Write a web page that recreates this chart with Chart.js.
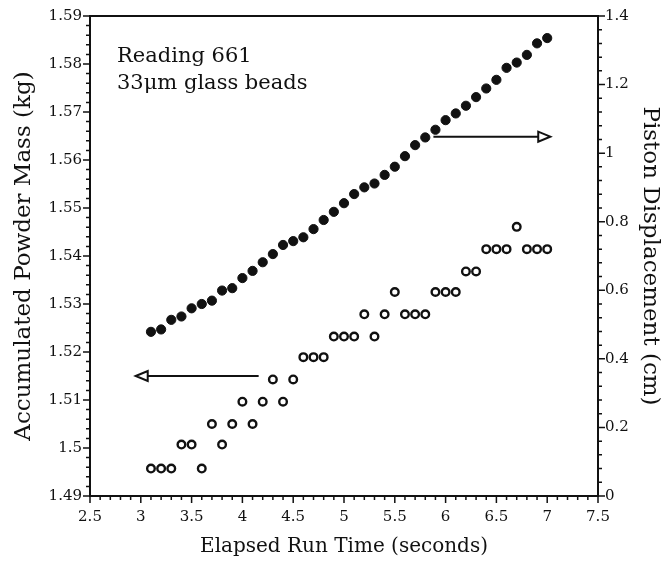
<!DOCTYPE html>
<html>
<head>
<meta charset="utf-8">
<script src="https://cdn.jsdelivr.net/npm/chart.js@4.4.0/dist/chart.umd.min.js"></script>
<style>
  html, body { margin: 0; padding: 0; background: #fff; }
</style>
</head>
<body>
<canvas id="runChart" width="668" height="561"></canvas>
<script>
// Elapsed run time (s), one sample every 0.1 s
const times = [3.1, 3.2, 3.3, 3.4, 3.5, 3.6, 3.7, 3.8, 3.9, 4.0,
               4.1, 4.2, 4.3, 4.4, 4.5, 4.6, 4.7, 4.8, 4.9, 5.0,
               5.1, 5.2, 5.3, 5.4, 5.5, 5.6, 5.7, 5.8, 5.9, 6.0,
               6.1, 6.2, 6.3, 6.4, 6.5, 6.6, 6.7, 6.8, 6.9, 7.0];

// Accumulated powder mass (kg), left axis
const massKg = [1.5242, 1.5247, 1.5267, 1.5274, 1.5291, 1.5300, 1.5307, 1.5328, 1.5333, 1.5354,
                1.5369, 1.5387, 1.5404, 1.5423, 1.5431, 1.5439, 1.5456, 1.5475, 1.5492, 1.5510,
                1.5529, 1.5543, 1.5551, 1.5569, 1.5586, 1.5608, 1.5631, 1.5647, 1.5663, 1.5683,
                1.5697, 1.5713, 1.5731, 1.5749, 1.5767, 1.5792, 1.5803, 1.5819, 1.5843, 1.5854];

// Piston displacement (cm), right axis
const pistonCm = [0.08, 0.08, 0.08, 0.15, 0.15, 0.08, 0.21, 0.15, 0.21, 0.275,
                  0.21, 0.275, 0.34, 0.275, 0.34, 0.405, 0.405, 0.405, 0.465, 0.465,
                  0.465, 0.53, 0.465, 0.53, 0.595, 0.53, 0.53, 0.53, 0.595, 0.595,
                  0.595, 0.655, 0.655, 0.72, 0.72, 0.72, 0.785, 0.72, 0.72, 0.72];

// Labelled tick values
const timeTicks = [2.5, 3, 3.5, 4, 4.5, 5, 5.5, 6, 6.5, 7, 7.5];
const massTicks = [1.49, 1.5, 1.51, 1.52, 1.53, 1.54, 1.55, 1.56, 1.57, 1.58, 1.59];
const pistonTicks = [0, 0.2, 0.4, 0.6, 0.8, 1, 1.2, 1.4];

// Minor tick spacing per axis
const minorSteps = { x: 0.1, mass: 0.002, piston: 0.04 };

const ink = '#111';
const serif = '"DejaVu Serif", "Liberation Serif", serif';

function useTicks(values) {
  return scale => { scale.ticks = values.map(v => ({ value: v })); };
}

// box, major/minor ticks, arrows and caption
const framePlugin = {
  id: 'frame',
  afterDraw(chart) {
    const { ctx, chartArea: a, scales } = chart;
    ctx.save();
    ctx.strokeStyle = ink;
    ctx.lineWidth = 2;
    ctx.strokeRect(a.left, a.top, a.right - a.left, a.bottom - a.top);

    const tickRun = (scale, step, majors, draw) => {
      const n = Math.round((scale.max - scale.min) / step);
      for (let i = 0; i <= n; i++) {
        const v = scale.min + i * step;
        const major = majors.some(m => Math.abs(m - v) < step / 10);
        draw(scale.getPixelForValue(v), major ? 7 : 4);
      }
    };
    ctx.lineWidth = 1.5;
    ctx.beginPath();
    tickRun(scales.x, minorSteps.x, timeTicks, (p, len) => {
      ctx.moveTo(p, a.bottom); ctx.lineTo(p, a.bottom + len);
    });
    tickRun(scales.mass, minorSteps.mass, massTicks, (p, len) => {
      ctx.moveTo(a.left, p); ctx.lineTo(a.left - len, p);
    });
    tickRun(scales.piston, minorSteps.piston, pistonTicks, (p, len) => {
      ctx.moveTo(a.right, p); ctx.lineTo(a.right + len, p);
    });
    ctx.stroke();

    // arrows pointing at each series' axis
    const arrow = (x0, x1, y) => {
      const dir = Math.sign(x1 - x0);
      const base = x1 - dir * 12;
      ctx.lineWidth = 2;
      ctx.beginPath();
      ctx.moveTo(x0, y); ctx.lineTo(base, y);
      ctx.stroke();
      ctx.fillStyle = '#fff';
      ctx.beginPath();
      ctx.moveTo(x1, y); ctx.lineTo(base, y - 5); ctx.lineTo(base, y + 5); ctx.closePath();
      ctx.fill(); ctx.stroke();
    };
    const xs = scales.x;
    arrow(xs.getPixelForValue(4.16), xs.getPixelForValue(2.95), scales.mass.getPixelForValue(1.515));
    arrow(xs.getPixelForValue(5.88), xs.getPixelForValue(7.03), scales.piston.getPixelForValue(1.048));

    ctx.fillStyle = ink;
    ctx.font = '21px ' + serif;
    ctx.textBaseline = 'alphabetic';
    ctx.textAlign = 'left';
    ctx.fillText('Reading 661', a.left + 27, a.top + 46);
    ctx.fillText('33μm glass beads', a.left + 27, a.top + 73);
    ctx.restore();
  }
};

const tickFont = { family: serif, size: 15 };

new Chart(document.getElementById('runChart'), {
  type: 'scatter',
  data: {
    datasets: [
      {
        label: 'Accumulated Powder Mass',
        yAxisID: 'mass',
        data: times.map((t, i) => ({ x: t, y: massKg[i] })),
        pointRadius: 4.6,
        borderWidth: 1,
        backgroundColor: ink,
        borderColor: ink
      },
      {
        label: 'Piston Displacement',
        yAxisID: 'piston',
        data: times.map((t, i) => ({ x: t, y: pistonCm[i] })),
        pointRadius: 3.8,
        borderWidth: 2.4,
        backgroundColor: 'rgba(0,0,0,0)',
        borderColor: ink
      }
    ]
  },
  options: {
    responsive: false,
    devicePixelRatio: 1,
    animation: false,
    layout: { padding: { top: 16, left: 0, right: 0, bottom: 0 } },
    plugins: { legend: { display: false }, tooltip: { enabled: false } },
    scales: {
      x: {
        type: 'linear',
        position: 'bottom',
        min: 2.5,
        max: 7.5,
        afterBuildTicks: useTicks(timeTicks),
        afterFit: s => { s.height = 65; },
        grid: { display: false, tickLength: 7 },
        border: { display: false },
        ticks: { font: tickFont, color: ink, padding: 5, maxRotation: 0, autoSkip: false, callback: v => String(v) },
        title: { display: true, text: 'Elapsed Run Time (seconds)', color: ink,
                 font: { family: serif, size: 20 }, padding: { top: 0, bottom: 2 } }
      },
      mass: {
        type: 'linear',
        position: 'left',
        min: 1.49,
        max: 1.59,
        afterBuildTicks: useTicks(massTicks),
        afterFit: s => { s.width = 90; },
        grid: { display: false, tickLength: 7 },
        border: { display: false },
        ticks: { font: tickFont, color: ink, padding: 1, autoSkip: false, callback: v => String(v) },
        title: { display: true, text: 'Accumulated Powder Mass (kg)', color: ink,
                 font: { family: serif, size: 23 }, padding: { top: 10, bottom: 0 } }
      },
      piston: {
        type: 'linear',
        position: 'right',
        min: 0,
        max: 1.4,
        afterBuildTicks: useTicks(pistonTicks),
        afterFit: s => { s.width = 70; },
        grid: { display: false, tickLength: 7 },
        border: { display: false },
        ticks: { font: tickFont, color: ink, padding: 0, autoSkip: false, callback: v => String(v) },
        title: { display: true, text: 'Piston Displacement (cm)', color: ink,
                 font: { family: serif, size: 23 }, padding: { top: 4, bottom: 0 } }
      }
    }
  },
  plugins: [framePlugin]
});
</script>
</body>
</html>
